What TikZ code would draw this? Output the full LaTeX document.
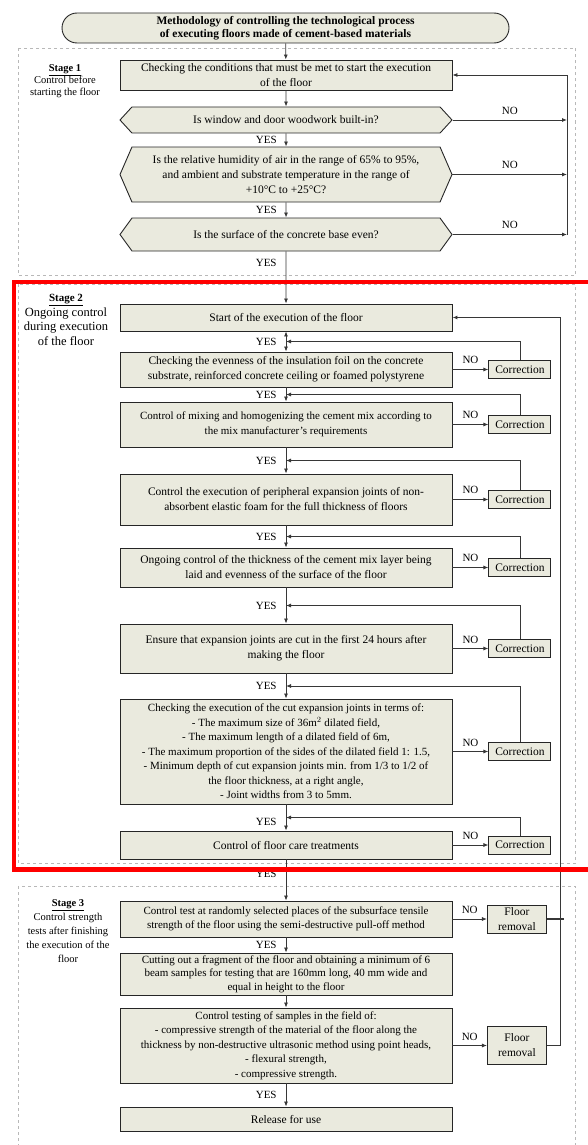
\documentclass[tikz,border=0pt]{standalone}
\usepackage{fontspec}
\setmainfont{Liberation Serif}
\usetikzlibrary{positioning, calc, arrows.meta, shapes.symbols}

\definecolor{boxfill}{RGB}{234,234,222}
\definecolor{linegray}{RGB}{55,55,55}

\tikzset{
	box/.style={draw=black!85, fill=boxfill, line width=0.9pt, align=center, inner sep=1pt,
		minimum width=332pt, font=\fontsize{11.5}{15}\selectfont},
	tight/.style={font=\fontsize{11}{14.5}\selectfont},
	decision/.style={box, shape=signal, signal to=east and west},
	corr/.style={box, minimum width=62pt, minimum height=18pt, inner sep=0.5pt},
	arr/.style={-{Latex[length=5pt,width=4pt]}, line width=0.8pt, draw=linegray},
	yes/.style={left, inner sep=9pt, font=\fontsize{11}{12}\selectfont},
	no/.style={above, inner sep=5pt, font=\fontsize{11}{12}\selectfont},
	stagebox/.style={draw=black!28, dashed, line width=0.7pt},
	stagelbl/.style={align=center, inner sep=0pt}
}

\begin{document}
\begin{tikzpicture}[x=1pt, y=-1pt]
		\useasboundingbox (0,0) rectangle (587,1145);
		
		%stage frames
		\draw [stagebox] (18,48) rectangle (575.5,275);
		\draw [stagebox] (18,284) rectangle (575.5,863);
		\draw [stagebox] (18,886) rectangle (575.5,1160);
		
		%stage labels
		\node [stagelbl, font=\fontsize{10.5}{11.5}\selectfont] (lbl1) at (65,81)
			{\underline{\textbf{Stage 1}}\\Control before\\starting the floor};
		\node [stagelbl, font=\fontsize{12.5}{14.7}\selectfont] (lbl2) at (66,320)
			{\underline{\textbf{\fontsize{11}{12}\selectfont Stage 2}}\\Ongoing control\\during execution\\of the floor};
		\node [stagelbl, font=\fontsize{10.5}{14}\selectfont] (lbl3) at (68,931)
			{\underline{\textbf{Stage 3}}\\Control strength\\tests after finishing\\the execution of the\\floor};
		
		%definition of the side lines
		\coordinate (fb) at (567,75);
		\coordinate (lx) at (560.5,317.5);
		
		%title
		\node [box, minimum width=447pt, minimum height=30pt, rounded corners=15pt,
			font=\fontsize{11.5}{13.5}\selectfont\bfseries] (title) at (285.5,28)
			{Methodology of controlling the technological process\\of executing floors made of cement-based materials};
		
		%stage 1
		\node [box, minimum height=30pt] (c1) at (286,75)
			{Checking the conditions that must be met to start the execution\\of the floor};
		\node [decision, minimum height=26pt, signal pointer angle=95] (d1) at (286,120)
			{Is window and door woodwork built-in?};
		\node [decision, minimum height=55pt, signal pointer angle=133] (d2) at (286,174.5)
			{Is the relative humidity of air in the range of 65\% to 95\%,\\and ambient and substrate temperature in the range of\\+10°C to +25°C?};
		\node [decision, minimum height=33pt, signal pointer angle=108] (d3) at (286,234.5)
			{Is the surface of the concrete base even?};
		
		\draw [arr] (title) -- (c1);
		\draw [arr] (c1) -- (d1);
		\draw [arr] (d1) -- node [yes] {YES} (d2);
		\draw [arr] (d2) -- node [yes] {YES} (d3);
		
		\draw [arr] (d1.east) -- node [no] {NO} (d1.east -| fb);
		\draw [arr] (d2.east) -- node [no] {NO} (d2.east -| fb);
		\draw [arr] (d3.east) -- node [no] {NO} (d3.east -| fb);
		\draw [arr] (d3.east -| fb) |- (c1.east);
		
		%stage 2
		\node [box, minimum height=27pt] (s0) at (286,317.5) {Start of the execution of the floor};
		\node [box, minimum height=35pt] (e1) at (286,369.5)
			{Checking the evenness of the insulation foil on the concrete\\substrate, reinforced concrete ceiling or foamed polystyrene};
		\node [box, tight, minimum height=45pt] (e2) at (286,424.5)
			{Control of mixing and homogenizing the cement mix according to\\the mix manufacturer's requirements};
		\node [box, minimum height=51pt] (e3) at (286,499.5)
			{Control the execution of peripheral expansion joints of non-\\absorbent elastic foam for the full thickness of floors};
		\node [box, minimum height=39pt] (e4) at (286,567.5)
			{Ongoing control of the thickness of the cement mix layer being\\laid and evenness of the surface of the floor};
		\node [box, minimum height=49pt] (e5) at (286,648.5)
			{Ensure that expansion joints are cut in the first 24 hours after\\making the floor};
		\node [box, tight, minimum height=105pt] (e6) at (286,751.5)
			{Checking the execution of the cut expansion joints in terms of:\\
			- The maximum size of 36m$^2$ dilated field,\\
			- The maximum length of a dilated field of 6m,\\
			- The maximum proportion of the sides of the dilated field 1: 1.5,\\
			- Minimum depth of cut expansion joints min. from 1/3 to 1/2 of\\
			the floor thickness, at a right angle,\\
			- Joint widths from 3 to 5mm.};
		\node [box, minimum height=28pt] (e7) at (286,845) {Control of floor care treatments};
		
		\foreach \i in {1,...,7}
			\node [corr, right=36pt of e\i] (k\i) {Correction};
		
		\draw [arr] (d3) -- node [yes, pos=0.22] {YES} (s0);
		\draw [arr, {Latex[length=5pt,width=4pt]}-{Latex[length=5pt,width=4pt]}] (s0) -- node [yes] {YES} (e1);
		\draw [arr] (e1) -- node [yes] {YES} (e2);
		\draw [arr] (e2) -- node [yes] {YES} (e3);
		\draw [arr] (e3) -- node [yes] {YES} (e4);
		\draw [arr] (e4) -- node [yes] {YES} (e5);
		\draw [arr] (e5) -- node [yes] {YES} (e6);
		\draw [arr] (e6) -- node [yes, pos=0.65] {YES} (e7);
		
		%corrections and feedback
		\coordinate (j1) at ($(s0.south)!0.5!(e1.north)$);
		\coordinate (j2) at ($(e1.south)!0.5!(e2.north)$);
		\coordinate (j3) at ($(e2.south)!0.5!(e3.north)$);
		\coordinate (j4) at ($(e3.south)!0.5!(e4.north)$);
		\coordinate (j5) at ($(e4.south)!0.5!(e5.north)$);
		\coordinate (j6) at ($(e5.south)!0.5!(e6.north)$);
		\coordinate (j7) at ($(e6.south)!0.5!(e7.north)$);
		\foreach \i in {1,...,7} {
			\draw [arr] (e\i) -- node [no] {NO} (k\i);
			\draw [arr] (k\i.north) |- (j\i);
		}
		
		%stage 3
		\node [box, tight, minimum height=36pt] (t1) at (286,919)
			{Control test at randomly selected places of the subsurface tensile\\strength of the floor using the semi-destructive pull-off method};
		\node [box, tight, minimum height=42pt, font=\fontsize{11}{13.5}\selectfont] (t2) at (286,974)
			{Cutting out a fragment of the floor and obtaining a minimum of 6\\beam samples for testing that are 160mm long, 40 mm wide and\\equal in height to the floor};
		\node [box, tight, minimum height=75pt] (t3) at (286,1045.5)
			{Control testing of samples in the field of:\\
			- compressive strength of the material of the floor along the\\
			thickness by non-destructive ultrasonic method using point heads,\\
			- flexural strength,\\
			- compressive strength.};
		\node [box, minimum height=24pt] (rel) at (286,1119) {Release for use};
		
		\node [corr, minimum width=59pt, minimum height=28pt, right=34.5pt of t1] (r1) {Floor\\removal};
		\node [corr, minimum width=59pt, minimum height=38pt, right=34.5pt of t3] (r2) {Floor\\removal};
		
		\draw [arr] (e7) -- node [yes, pos=0.35] {YES} (t1);
		\draw [arr] (t1) -- node [yes] {YES} (t2);
		\draw [arr] (t2) -- (t3);
		\draw [arr] (t3) -- node [yes] {YES} (rel);
		
		\draw [arr] (t1) -- node [no] {NO} (r1);
		\draw [arr] (t3) -- node [no] {NO} (r2);
		
		%removal back to the start
		\draw [linegray, line width=1.1pt] (r1.east) -- ($(r1.east -| lx)+(3,0)$);
		\draw [arr, line width=1.1pt] (r2.east) -- (r2.east -| lx) -- (lx) -- (s0.east);
		
		%highlight of stage 2
		\draw [red, line width=4.5pt] (14,282) rectangle (600,869.5);
	\end{tikzpicture}
\end{document}
